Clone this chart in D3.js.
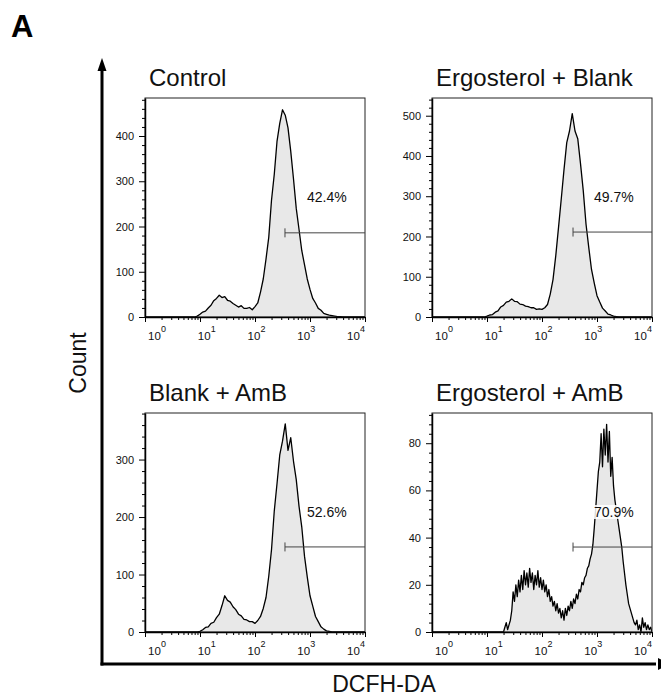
<!DOCTYPE html>
<html><head><meta charset="utf-8">
<script src="https://cdn.jsdelivr.net/npm/d3@7"></script>
<style>
body{margin:0;background:#fff}
svg{display:block}
text{font-family:Arial,"Liberation Sans",Helvetica,sans-serif;fill:#111}
</style>
</head><body>
<svg id="c" width="661" height="698"></svg>
<script>
// ---------------- DATA ----------------
const panelTitles = ["Control", "Ergosterol + Blank", "Blank + AmB", "Ergosterol + AmB"];
const gatePercents = ["42.4%", "49.7%", "52.6%", "70.9%"];
const yMax = [484, 544, 381, 92.8];
const yMajorTicks = [[0,100,200,300,400],[0,100,200,300,400,500],[0,100,200,300],[0,20,40,60,80]];
const yMinorStep = [20, 20, 20, 4];
const xTickExponents = [0, 1, 2, 3, 4];
// gate: start (log10 DCFH-DA intensity) and level (count)
const gateStartLog = [2.545, 2.564, 2.545, 2.564];
const gateLevel = [186, 211, 148, 36];
// histogram bins: first bin (log10 intensity) and bin width (decades)
const binStart = [0.90, 0.90, 0.90, 1.30];
const binStep = [0.05, 0.05, 0.05, 0.025];
// counts per bin
const controlCounts = [
  0,2,6,11,13,20,26,36,41,48,
  43,45,37,35,30,26,22,25,19,19,
  21,16,23,31,55,84,128,176,258,315,
  388,428,458,446,418,366,305,240,194,147,
  116,84,61,41,31,19,15,8,6,4,
  3,2,1,1,0];
const ergBlankCounts = [
  0,0,2,5,6,12,15,25,29,37,
  39,45,39,38,32,31,27,26,23,23,
  19,20,19,23,31,57,93,152,222,293,
  366,433,462,505,462,443,381,314,231,173,
  118,84,53,37,22,15,7,5,2,1,
  0,0,0,0,0];
const blankAmbCounts = [
  0,0,1,4,8,9,15,17,25,31,
  46,63,55,52,44,39,31,28,22,21,
  18,18,15,20,27,41,60,97,143,210,
  258,308,332,362,316,338,297,265,219,183,
  132,96,63,45,27,18,9,5,2,1,
  0,0,0,0,0];
const ergAmbCounts = [
  0,2,4,1,3,5,9,17,13,20,
  15,22,17,24,18,26,20,25,19,27,
  21,25,18,24,20,26,19,23,18,22,
  17,20,15,18,13,15,11,13,9,12,
  8,10,6,9,5,10,7,11,9,13,
  10,14,12,16,14,18,17,21,20,23,
  24,27,28,31,33,37,44,52,60,68,
  72,84,70,86,75,88,72,85,66,74,
  62,56,52,48,44,40,36,30,25,20,
  16,12,10,8,6,4,3,5,1,3,
  0,6,2,4,1,3,1,2,0];
const series = [controlCounts, ergBlankCounts, blankAmbCounts, ergAmbCounts];
const yAxisTitle = "Count";
const xAxisTitle = "DCFH-DA";
const figureLetter = "A";

// ---------------- LAYOUT ----------------
const W = 220, H = 219;
const panelPos = [[145, 98], [432, 98], [145, 413], [432, 413]];
const svg = d3.select("#c");

// figure letter
svg.append("text").attr("x", 11).attr("y", 37)
  .style("font-size", "31px").style("font-weight", "bold").style("fill", "#000")
  .text(figureLetter);

// big axes
svg.append("path").attr("d", "M102,665.5 L102,66").attr("stroke", "#000").attr("stroke-width", 3).attr("fill", "none");
svg.append("path").attr("d", "M102,58 L97.5,71 L106.5,71 Z").attr("fill", "#000");
svg.append("path").attr("d", "M100.5,664 L656,664").attr("stroke", "#000").attr("stroke-width", 3).attr("fill", "none");
svg.append("path").attr("d", "M671,664 L658,658 L658,670 Z").attr("fill", "#000");

svg.append("text").attr("transform", "translate(86,363) rotate(-90)")
  .attr("text-anchor", "middle").style("font-size", "23px").text(yAxisTitle);
svg.append("text").attr("x", 384).attr("y", 692)
  .attr("text-anchor", "middle").style("font-size", "23px").text(xAxisTitle);

panelTitles.forEach((title, i) => {
  const [px, py] = panelPos[i];
  const g = svg.append("g").attr("transform", `translate(${px},${py})`);
  const x = d3.scaleLog().domain([1, 1e4]).range([0, W]);
  const y = d3.scaleLinear().domain([0, yMax[i]]).range([H, 0]);

  // title
  svg.append("text").attr("x", px + 4).attr("y", py - 12)
    .style("font-size", "24px").text(title);

  // clip
  const cid = "clip" + i;
  g.append("clipPath").attr("id", cid).append("rect").attr("width", W).attr("height", H);

  // histogram
  const pts = [[0, 0]]
    .concat(series[i].map((c, k) => [binStart[i] + k * binStep[i], c]))
    .concat([[4, 0]]);
  const xf = d => x(Math.pow(10, d[0]));
  const hg = g.append("g").attr("clip-path", `url(#${cid})`);
  hg.append("path").datum(pts)
    .attr("d", d3.area().x(xf).y0(H).y1(d => y(d[1])))
    .attr("fill", "#e8e8e8");
  hg.append("path").datum(pts)
    .attr("d", d3.line().x(xf).y(d => y(d[1])))
    .attr("fill", "none").attr("stroke", "#000").attr("stroke-width", 1.3)
    .attr("stroke-linejoin", "round");

  // frame
  g.append("rect").attr("width", W).attr("height", H)
    .attr("fill", "none").attr("stroke", "#222").attr("stroke-width", 1);

  // gate
  const gx = x(Math.pow(10, gateStartLog[i])), gy = y(gateLevel[i]);
  g.append("line").attr("x1", gx).attr("x2", W).attr("y1", gy).attr("y2", gy)
    .attr("stroke", "#444").attr("stroke-width", 1);
  g.append("line").attr("x1", gx).attr("x2", gx).attr("y1", gy - 4.5).attr("y2", gy + 4.5)
    .attr("stroke", "#444").attr("stroke-width", 1);

  // percent label
  const lg = g.append("g");
  const bg = lg.append("rect").attr("fill", "#fff").attr("opacity", 0.85);
  const lt = lg.append("text").attr("x", 162).attr("y", 104)
    .style("font-size", "14px").text(gatePercents[i]);
  const bb = lt.node().getBBox();
  bg.attr("x", bb.x - 1).attr("y", bb.y + 1).attr("width", bb.width + 2).attr("height", bb.height - 2);

  // y axis
  const minors = d3.range(0, yMax[i], yMinorStep[i]).filter(v => !yMajorTicks[i].includes(v));
  const ya = g.append("g").call(d3.axisLeft(y).tickValues(yMajorTicks[i]).tickSize(6).tickPadding(5).tickSizeOuter(0));
  g.append("g").call(d3.axisLeft(y).tickValues(minors).tickSize(3).tickFormat("").tickSizeOuter(0))
    .select(".domain").remove();
  ya.select(".domain").attr("stroke-width", 1.5);
  ya.selectAll("text").style("font-size", "11px").style("font-family", "Arial, 'Liberation Sans', sans-serif").attr("fill", "#111");

  // x axis
  const xt = x.ticks();
  const xa = g.append("g").attr("transform", `translate(0,${H})`)
    .call(d3.axisBottom(x).tickValues(xt).tickFormat("").tickSizeOuter(0));
  xa.selectAll(".tick line").attr("y2", d => {
    const l = Math.log10(d);
    return Math.abs(l - Math.round(l)) < 1e-9 ? 5 : 3;
  });
  xa.select(".domain").attr("stroke-width", 1.5);

  // decade labels (FlowJo style: evenly spread inside the axis)
  const lx = d3.scaleLinear().domain([0, 4]).range([12, W - 9]);
  xTickExponents.forEach(e => {
    const t = g.append("text").attr("x", lx(e)).attr("y", H + 23)
      .attr("text-anchor", "middle").style("font-size", "11.5px");
    t.append("tspan").text("10");
    t.append("tspan").attr("dy", -8).style("font-size", "9px").text(e);
  });
});
</script>
</body></html>
